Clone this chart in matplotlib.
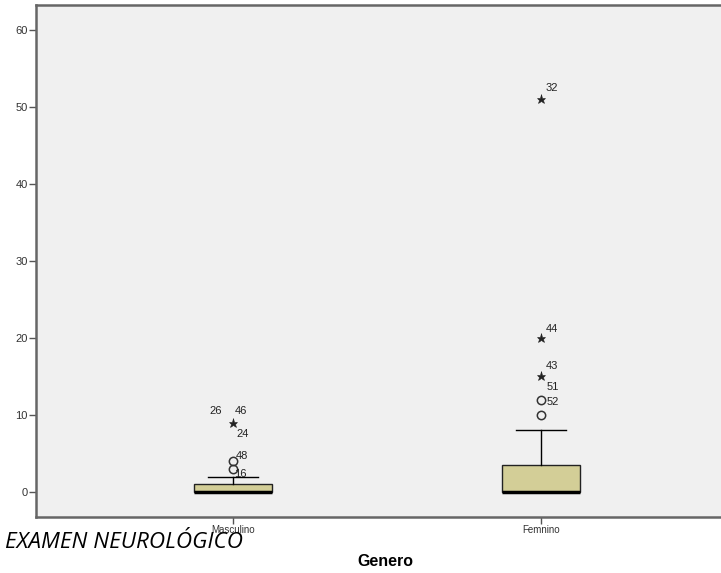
import matplotlib
matplotlib.use("Agg")
import matplotlib.pyplot as plt

plt.rcParams['font.family'] = ['Liberation Sans', 'DejaVu Sans']

# datos
grupos = ['Masculino', 'Femnino']
q1 = [0, 0]
mediana = [0, 0]
q3 = [1, 3.5]
bigote_inf = [0, 0]
bigote_sup = [2, 8]

# atipicos (circulos) y extremos (estrellas)
atip_m = [3, 4]
atip_f = [10, 12]
extr_m = [9]
extr_f = [15, 20, 51]

# etiquetas de casos: (grupo, valor, texto)
etiq_grupo = [0, 0, 0, 0, 0, 1, 1, 1, 1, 1]
etiq_valor = [10.5, 10.5, 7.5, 4.7, 2.3, 52.5, 21.2, 16.4, 13.6, 11.7]
etiq_texto = ['26', '46', '24', '48', '16', '32', '44', '43', '51', '52']
etiq_dx = [-0.09, -0.01, -0.005, -0.005, -0.01, 0.0, 0.0, 0.0, 0.003, 0.003]

fig = plt.figure(figsize=(7.21, 5.73), dpi=100)
ax = fig.add_axes([36/721, 56/573, 688/721, 512/573])
ax.set_facecolor('#F0F0F0')

stats = []
for i in range(len(grupos)):
    stats.append(dict(q1=q1[i], med=mediana[i], q3=q3[i],
                      whislo=bigote_inf[i], whishi=bigote_sup[i], fliers=[]))

pos = [1, 2]
ax.bxp(stats, positions=pos, widths=0.256, capwidths=0.165, patch_artist=True,
       showfliers=False,
       boxprops=dict(facecolor='#D3CE97', edgecolor='#222222', linewidth=1),
       medianprops=dict(color='black', linewidth=2.5),
       whiskerprops=dict(color='black', linewidth=1),
       capprops=dict(color='black', linewidth=1))

ax.plot([pos[0]] * len(atip_m), atip_m, 'o', mfc='none', mec='#333333', ms=6, mew=1.1)
ax.plot([pos[1]] * len(atip_f), atip_f, 'o', mfc='none', mec='#333333', ms=6, mew=1.1)
ax.plot([pos[0]] * len(extr_m), extr_m, '*', color='#222222', ms=6.5, mew=0.4)
ax.plot([pos[1]] * len(extr_f), extr_f, '*', color='#222222', ms=6.5, mew=0.4)

for g, v, t, dx in zip(etiq_grupo, etiq_valor, etiq_texto, etiq_dx):
    ax.text(pos[g] + 0.015 + dx, v, t, fontsize=8, color='#222222',
            ha='left', va='center')

ax.set_xlim(0.3604, 2.594)
ax.set_ylim(-3.25, 63.25)
ax.set_yticks([0, 10, 20, 30, 40, 50, 60])
ax.set_xticks(pos)
ax.set_xticklabels(grupos, fontsize=7, color='#333333')
ax.tick_params(axis='y', labelsize=8, labelcolor='#333333', length=5, width=1,
               color='#555555', pad=1)
ax.tick_params(axis='x', length=5, width=1, color='#555555', pad=1)

for s in ['left', 'bottom', 'top']:
    ax.spines[s].set_color('#666666')
    ax.spines[s].set_linewidth(1.8)
ax.spines['right'].set_visible(False)

fig.text(5/721, 1 - 543/573, 'EXAMEN NEUROLÓGICO', family='Open Sans',
         style='italic', fontsize=16.2, ha='left', va='center')
fig.text(385/721, 1 - 561/573, 'Genero', fontsize=11.5, fontweight='bold',
         ha='center', va='center')

fig.savefig('out.png', dpi=100)
